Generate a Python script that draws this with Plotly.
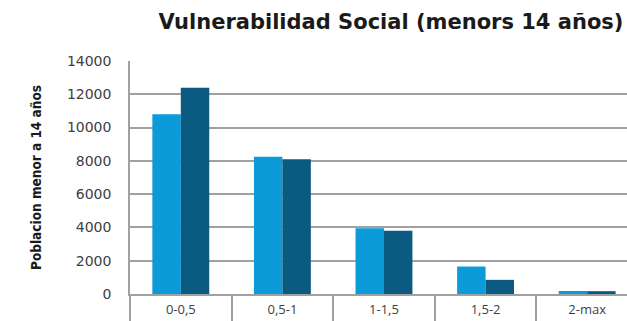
import plotly.graph_objects as go

categories = ["0-0,5", "0,5-1", "1-1,5", "1,5-2", "2-max"]
serie_a = [10800, 8250, 3950, 1650, 180]
serie_b = [12400, 8100, 3800, 850, 170]
y_ticks = [0, 2000, 4000, 6000, 8000, 10000, 12000, 14000]
y_tick_text = ["0", "2000", "4000", "6000", "8000", "10000", "12000", "14000"]

title_text = "Vulnerabilidad Social (menors 14 años)"
y_title = "Poblacion menor a 14 años"

fig = go.Figure()
fig.add_trace(go.Bar(x=categories, y=serie_a, marker=dict(color="#0a9bd8", line=dict(width=0)), name="A"))
fig.add_trace(go.Bar(x=categories, y=serie_b, marker=dict(color="#0b5a82", line=dict(width=0)), name="B"))

fig.update_layout(
    template="none",
    width=627, height=321,
    margin=dict(l=130, r=0, t=61, b=27, autoexpand=False),
    paper_bgcolor="white", plot_bgcolor="white",
    showlegend=False,
    barmode="group", bargap=0.44, bargroupgap=0,
    title=dict(text=title_text, x=391/627, xanchor="center", y=1 - 22/321, yanchor="middle",
               font=dict(family="DejaVu Sans", size=21, color="#1a1a1a", weight="bold")),
    font=dict(family="Open Sans", color="#404040"),
)
fig.update_yaxes(
    range=[0, 14000], tickmode="array", tickvals=y_ticks, ticktext=y_tick_text,
    showgrid=True, gridcolor="#a0a0a0", gridwidth=1.5, automargin=False,
    showline=True, linecolor="#a0a0a0", linewidth=1.5, zeroline=False,
    ticks="outside", ticklen=14, tickcolor="rgba(0,0,0,0)",
    tickfont=dict(family="DejaVu Sans", size=14, color="#404040"),
    title=dict(text=y_title, standoff=22, font=dict(family="DejaVu Sans Condensed", size=13.5, color="#1a1a1a", weight="bold")),
)
fig.update_xaxes(
    type="category", range=[-0.5, -0.5 + 499 / 102], automargin=False, showgrid=False,
    showline=True, linecolor="#a0a0a0", linewidth=1.5,
    ticks="outside", tickson="boundaries", ticklen=27, tickcolor="#a0a0a0", tickwidth=1.5,
    ticklabelstandoff=3, tickfont=dict(size=13, color="#404040"),
)

fig.write_html("out.html", config={"displayModeBar": False},
               post_script="document.body.style.margin='0';document.body.style.padding='0';")
